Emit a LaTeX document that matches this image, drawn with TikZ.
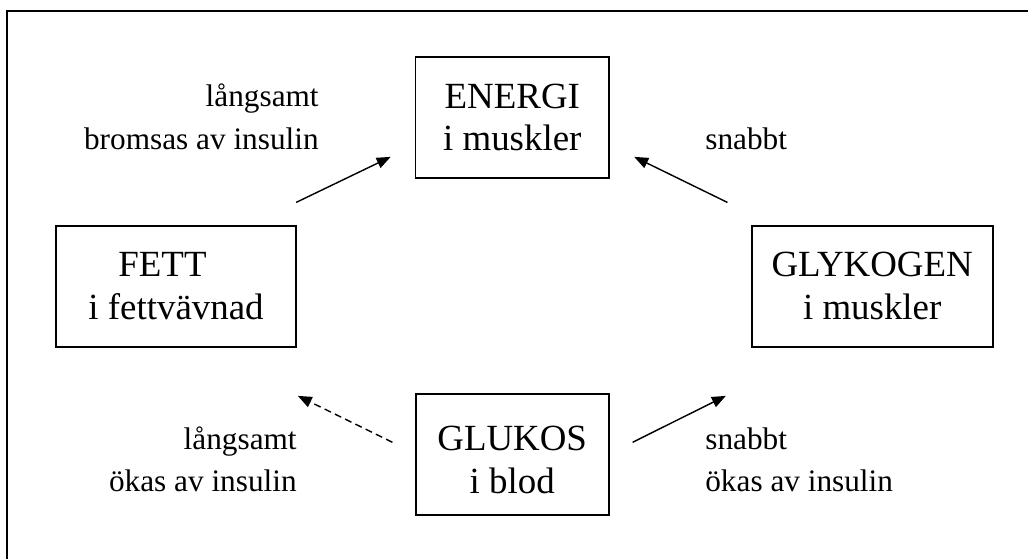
\documentclass[tikz,border=0pt]{standalone}
\usepackage{fontspec}
\setmainfont{Liberation Serif}
\usetikzlibrary{calc}
\usetikzlibrary{arrows.meta}

\begin{document}
\begin{tikzpicture}[x=0.02cm, y=-0.02cm,
  box/.style={draw, line width=1pt, inner sep=0pt, minimum height=2.42cm,
    align=center, font=\fontsize{21}{24.2}\selectfont},
  lbl/.style={inner sep=0pt, font=\fontsize{17.8}{24.2}\selectfont},
  arr/.style={line width=0.8pt, -{Triangle[length=0.28cm, width=0.22cm]}}]

\useasboundingbox (0,0) rectangle (1028,558);

%================ FRAME ==================
\draw[line width=1.2pt] (1040,11) -- (7,11) -- (7,570);

%================ BOXES ==================
\node[box, minimum width=3.87cm] (energi) at (512.3,117.5) {ENERGI\\i muskler};
\node[box, minimum width=4.81cm, align=left] (fett) at (176,286.2) {\hspace*{0.6cm}FETT\\i fettvävnad};
\node[box, minimum width=4.82cm] (glykogen) at (872.2,286.2) {GLYKOGEN\\i muskler};
\node[box, minimum width=3.86cm] (glukos) at (512.2,454.5) {\rule{0pt}{20pt}GLUKOS\\i blod};

%================ LABELS ==================
\node[lbl, align=right, anchor=base east] (tl) at (319,149) {långsamt\\bromsas av insulin};
\node[lbl, anchor=base west] (tr) at (705,149) {snabbt};
\node[lbl, align=right, anchor=base east] (bl) at (297,491.7) {långsamt\\ökas av insulin};
\node[lbl, align=left, anchor=base west] (br) at (705,491.7) {snabbt\\ökas av insulin};

%================ ARROWS ==================
\draw[arr] ($(fett.north east)+(-1,-22.4)$) -- ($(energi.south west)+(-24,-22)$);
\draw[arr] ($(glykogen.north west)+(-23.4,-22.4)$) -- ($(energi.south east)+(24.3,-22)$);
\draw[arr, dash pattern=on 4pt off 2.5pt] ($(glukos.west)+(-22.4,-12.2)$) -- ($(fett.south east)+(0.7,48.3)$);
\draw[arr] ($(glukos.east)+(23,-12.2)$) -- ($(glykogen.south west)+(-25,48.3)$);

\end{tikzpicture}
\end{document}
